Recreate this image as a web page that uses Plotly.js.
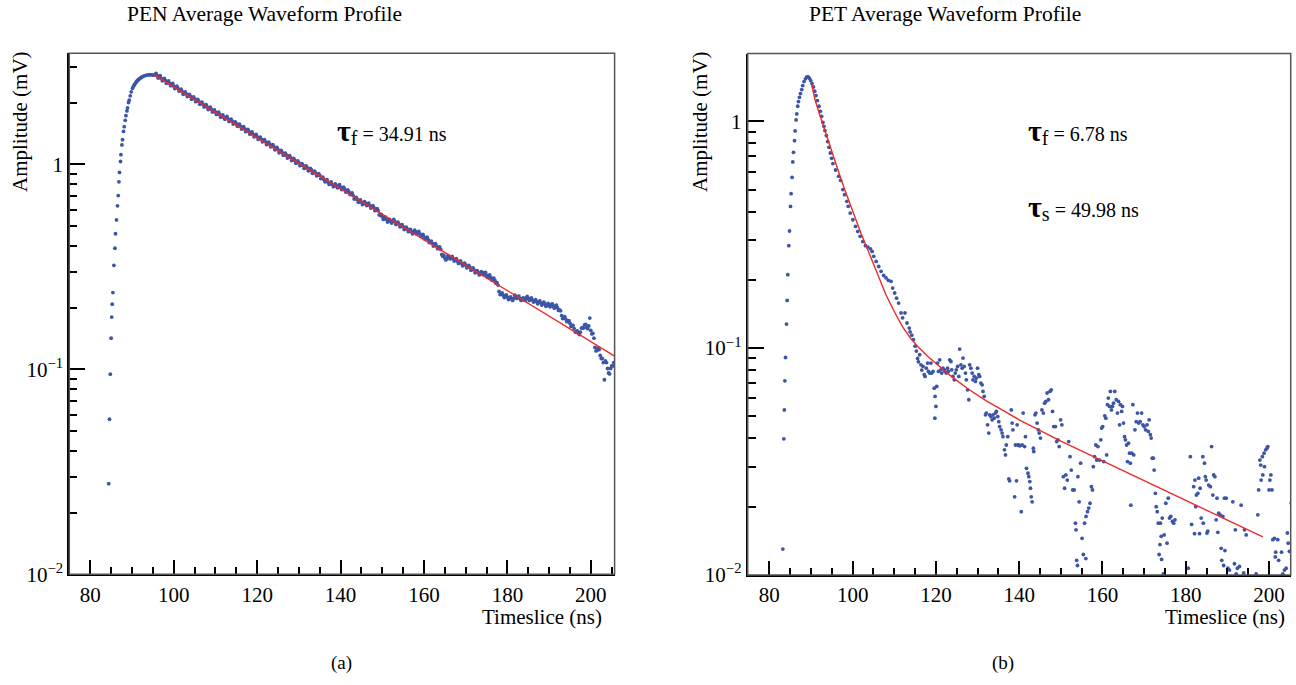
<!DOCTYPE html>
<html><head><meta charset="utf-8">
<script src="https://cdn.plot.ly/plotly-3.0.1.min.js"></script>
<style>html,body{margin:0;padding:0;background:#fff}#chart{width:1296px;height:685px}</style>
</head><body><div id="chart"></div>
<script>
// ---------- PEN waveform (panel a) ----------
const penTime=[84.40,84.59,84.78,84.98,85.12,85.24,85.41,85.65,85.89,86.03,86.27,86.51,86.68,86.85,86.99,87.23,87.33,87.57,87.71,87.95,88.12,88.36,88.53,88.77,88.91,89.15,89.32,89.56,89.80,90.11,90.35,90.55,90.76,90.95,91.16,91.35,91.55,91.8,92.12,92.4,92.75,93.1,93.56,93.9,94.35,94.7,95.14,
95.5,96,96.5,97,97.5,98,98.5,99,99.5,100,100.5,101,101.5,102,102.5,103,103.5,104,104.5,105,105.5,106,106.5,107,107.5,108,108.5,109,109.5,110,110.5,111,111.5,112,
112.5,113,113.5,114,114.5,115,115.5,116,116.5,117,117.5,118,118.5,119,119.5,120,120.5,121,121.5,122,122.5,123,123.5,124,124.5,125,
125.5,126,126.5,127,127.5,128,128.5,129,129.5,130,130.5,131,131.5,132,132.5,133,133.5,134,134.5,135,
135.5,136,136.5,137,137.5,138,138.5,139,139.5,140,140.5,141,141.5,142,142.5,143,143.5,144,144.5,145,145.5,146,146.5,147,147.5,148,148.5,149,
149.5,150,150.5,151,151.5,152,152.5,153,153.5,154,154.5,155,155.5,156,156.5,157,157.5,158,158.5,159,159.5,160,160.5,161,
161.5,162,162.5,163,163.5,164,164.5,165,165.5,166,166.5,167,167.5,168,168.5,169,169.5,170,170.5,171,171.5,172,172.5,173,173.5,
174,174.5,175,175.5,176,176.5,177,177.5,178,178.5,179,179.5,180,180.5,181,181.5,182,182.5,183,183.5,184,
184.5,185,185.5,186,186.5,187,187.5,188,188.5,189,189.5,190,190.5,191,191.5,192,192.5,193,193.5,194,194.5,195,195.5,196,
196.5,197,197.5,198,198.5,199,199.5,200,200.5,201,201.5,202,202.5,203,203.5,204,204.5,205,205.5];
const penAmp=[0.0277,0.0571,0.0948,0.142,0.180,0.208,0.237,0.322,0.390,0.459,0.536,0.628,0.705,0.823,0.914,1.034,1.116,1.245,1.321,1.450,1.529,1.642,1.731,1.826,1.888,2.005,2.058,2.162,2.262,2.355,2.409,2.45,2.483,2.52,2.548,2.575,2.598,2.62,2.649,2.675,2.697,2.715,2.727,2.735,2.740,2.737,2.727,
2.745,2.71,2.68,2.63,2.60,2.565,2.52,2.49,2.46,2.41,2.38,2.35,2.30,2.27,2.22,2.21,2.17,2.15,2.10,2.09,2.04,2.03,1.98,1.97,1.93,1.91,1.88,1.86,1.82,1.80,1.78,1.75,1.72,1.70,
1.69,1.67,1.64,1.625,1.59,1.58,1.55,1.535,1.505,1.49,1.46,1.45,1.42,1.405,1.38,1.365,1.34,1.33,1.30,1.29,1.265,1.255,1.23,1.22,1.19,1.18,
1.15,1.145,1.115,1.11,1.085,1.08,1.05,1.05,1.02,1.02,0.992,0.99,0.962,0.965,0.935,0.94,0.91,0.91,0.885,0.885,
0.855,0.845,0.835,0.82,0.81,0.80,0.79,0.785,0.785,0.775,0.765,0.755,0.74,0.735,0.72,0.705,0.68,0.675,0.66,0.655,0.645,0.645,0.64,0.63,0.62,0.615,0.60,0.595,
0.565,0.555,0.545,0.54,0.53,0.527,0.53,0.526,0.514,0.512,0.50,0.497,0.485,0.484,0.476,0.47,0.467,0.47,0.465,0.458,0.452,0.443,0.437,0.430,
0.418,0.412,0.405,0.400,0.392,0.385,0.357,0.350,0.348,0.355,0.352,0.346,0.343,0.338,0.333,0.330,0.324,0.323,0.316,0.315,0.307,0.306,0.298,0.297,0.292,
0.297,0.294,0.288,0.286,0.281,0.276,0.272,0.265,0.240,0.233,0.230,0.227,0.225,0.222,0.221,0.222,0.228,0.226,0.222,0.220,0.218,
0.224,0.222,0.220,0.218,0.216,0.214,0.213,0.211,0.210,0.208,0.206,0.205,0.207,0.203,0.204,0.200,0.195,0.183,0.178,0.176,0.172,0.168,0.163,0.158,
0.152,0.150,0.152,0.160,0.165,0.160,0.163,0.155,0.150,0.128,0.124,0.125,0.113,0.108,0.110,0.101,0.095,0.104,0.108];
// in-between samples of the PEN decay band
const penTimeB=[95.75,96.25,96.75,97.25,97.75,98.25,98.75,99.25,99.75,100.25,100.75,101.25,101.75,102.25,102.75,103.25,103.75,104.25,104.75,105.25,105.75,106.25,106.75,107.25,107.75,108.25,108.75,109.25,109.75,110.25,110.75,111.25,111.75,112.25,112.75,113.25,113.75,114.25,114.75,115.25,115.75,116.25,116.75,117.25,117.75,118.25,118.75,119.25,119.75,120.25,120.75,121.25,121.75,122.25,122.75,123.25,123.75,124.25,124.75,125.25,125.75,126.25,126.75,127.25,127.75,128.25,128.75,129.25,129.75,130.25,130.75,131.25,131.75,132.25,132.75,133.25,133.75,134.25,134.75,135.25,135.75,136.25,136.75,137.25,137.75,138.25,138.75,139.25,139.75,140.25,140.75,141.25,141.75,142.25,142.75,143.25,143.75,144.25,144.75,145.25,145.75,146.25,146.75,147.25,147.75,148.25,148.75,149.25,149.75,150.25,150.75,151.25,151.75,152.25,152.75,153.25,153.75,154.25,154.75,155.25,155.75,156.25,156.75,157.25,157.75,158.25,158.75,159.25,159.75,160.25,160.75,161.25,161.75,162.25,162.75,163.25,163.75,164.25,164.75,165.25,165.75,166.25,166.75,167.25,167.75,168.25,168.75,169.25,169.75,170.25,170.75,171.25,171.75,172.25,172.75,173.25,173.75,174.25,174.75,175.25,175.75,176.25,176.75,177.25,177.75,178.25,178.75,179.25,179.75,180.25,180.75,181.25,181.75,182.25,182.75,183.25,183.75,184.25,184.75,185.25,185.75,186.25,186.75,187.25,187.75,188.25,188.75,189.25,189.75,190.25,190.75,191.25,191.75,192.25,192.75,193.25,193.75,194.25,194.75,195.25,195.75,196.25,196.75,197.25,197.75,198.25,198.75,199.25,199.75,200.25,200.75,201.25,201.75,202.25,202.75,203.25,203.75,204.25,204.75,205.25];
const penAmpB=[2.78,2.64,2.71,2.56,2.63,2.49,2.555,2.425,2.485,2.345,2.41,2.28,2.33,2.20,2.26,2.145,2.20,2.08,2.135,2.025,2.075,1.965,2.015,1.91,1.96,1.855,1.905,1.805,1.845,1.755,1.80,1.70,1.745,1.66,1.715,1.62,1.665,1.575,1.615,1.535,1.575,1.49,1.53,1.445,1.485,1.405,1.44,1.365,1.40,1.325,1.36,1.29,1.32,1.25,1.285,1.22,1.25,1.18,1.21,1.14,1.17,1.11,1.135,1.075,1.105,1.045,1.07,1.015,1.04,0.986,1.01,0.956,0.983,0.931,0.956,0.906,0.928,0.880,0.903,0.853,0.867,0.823,0.844,0.799,0.821,0.779,0.803,0.769,0.796,0.755,0.775,0.733,0.752,0.713,0.727,0.679,0.691,0.654,0.671,0.637,0.658,0.630,0.648,0.613,0.630,0.595,0.609,0.568,0.571,0.539,0.553,0.524,0.539,0.518,0.539,0.510,0.523,0.496,0.508,0.481,0.494,0.470,0.482,0.459,0.478,0.458,0.471,0.446,0.456,0.431,0.442,0.416,0.423,0.400,0.411,0.388,0.396,0.364,0.361,0.342,0.359,0.346,0.356,0.338,0.347,0.329,0.338,0.320,0.330,0.313,0.322,0.305,0.313,0.296,0.303,0.289,0.300,0.290,0.297,0.281,0.289,0.273,0.279,0.263,0.258,0.232,0.236,0.224,0.231,0.219,0.226,0.217,0.230,0.222,0.228,0.217,0.223,0.217,0.227,0.217,0.223,0.213,0.219,0.209,0.216,0.206,0.213,0.203,0.210,0.202,0.209,0.199,0.206,0.194,0.193,0.177,0.181,0.171,0.173,0.162,0.164,0.152,0.154,0.148,0.159,0.159,0.166,0.158,0.178,0.149,0.142,0.123,0.127,0.117,0.113,0.089,0.108,0.096,0.101,0.104];
const penFitTime=[95.14,205.7];
const penFitAmp=[2.75,0.1160];

// ---------- PET waveform (panel b) ----------
const petTime=[83.24,83.48,83.6,83.72,83.88,84.12,84.27,84.43,84.67,84.84,85.08,85.22,85.46,85.63,85.80,86.04,86.18,86.42,86.59,86.82,86.99,87.23,87.47,87.78,88.02,88.33,88.67,88.98,89.29,89.62,89.93,90.24,90.58,90.89,91.20,91.53,91.92,92.25,92.56,92.87,93.11,93.35,93.69,94.00,94.31,94.64,94.95,95.26,95.9,96.63,97.1,97.65,98.06,98.61,98.95,99.42,100.05,100.69,101.24,101.81,102.44,103.08,103.64,104.28,104.68,105.07,105.64,106.26,106.83,107.46,108.03,108.58,109.22,109.61,110.09,110.56,111.04,111.62,112.0,112.57,113.05,113.6,
113.8,114.2,114.6,115.0,115.3,115.6,115.8,116.1,116.4,116.6,116.9,117.2,117.4,117.7,118.0,118.2,118.5,118.8,119.0,119.3,119.6,119.75,119.8,120.0,120.2,120.4,120.6,120.9,121.2,121.4,121.7,122.0,122.2,122.5,122.8,123.0,123.3,123.6,123.8,124.1,124.4,124.65,124.9,125.2,125.5,125.7,126.0,126.3,126.5,126.8,127.1,127.3,127.6,127.9,128.1,128.4,128.7,128.9,129.2,129.5,129.7,130.0,130.3,130.5,130.8,131.1,131.3,131.6,
131.9,132.1,132.4,132.7,132.9,133.2,133.5,133.7,134.0,134.3,134.5,134.85,135.1,135.3,135.65,135.9,136.1,136.45,136.7,136.9,137.25,137.5,137.7,138.1,138.3,138.5,138.9,139.1,139.35,139.5,139.7,139.9,140.15,140.5,140.7,140.95,141.3,141.5,141.75,142.1,142.3,142.55,142.7,142.9,143.1,143.4,143.5,143.8,144.0,144.3,144.6,144.8,145.1,145.45,145.8,146.1,146.4,146.7,147.05,147.4,147.7,148.0,148.3,148.7,149.0,149.3,149.6,149.95,150.25,150.6,150.9,151.2,151.55,151.9,152.2,152.5,152.85,153.2,153.5,153.65,153.8,154.0,154.1,154.4,154.75,155.1,155.4,155.7,156.0,156.05,156.4,156.7,157.0,157.35,157.6,157.8,158.1,158.4,158.6,158.9,159.3,159.6,159.8,160.05,160.3,160.55,160.8,161.0,161.2,161.4,161.7,161.9,162.15,162.4,162.65,162.95,163.3,163.6,163.85,164.1,164.3,164.6,164.8,165.05,165.3,165.5,165.8,166.0,166.25,166.5,166.7,166.8,167.05,167.3,167.5,167.8,168.1,168.4,168.7,169.05,169.4,169.7,170.0,170.35,170.7,171.0,171.2,171.5,171.7,171.95,172.2,172.4,172.7,172.9,173.15,173.4,173.6,173.8,173.9,174.1,174.2,174.35,174.6,174.8,175.2,175.5,175.8,176.1,176.4,176.8,177.1,177.4,
180.6,181.1,181.4,181.9,182.1,182.2,182.4,182.55,182.9,183.1,183.3,183.45,183.7,184.1,184.2,184.5,184.7,184.9,185.1,185.3,185.5,185.9,186.2,186.5,186.7,187.0,187.3,187.5,187.7,187.9,188.25,188.5,188.65,188.9,189.1,189.3,189.4,189.7,190.1,190.5,191.3,191.7,191.9,192.1,192.4,192.9,193.3,193.9,194.1,194.5,196.9,197.3,197.5,197.8,198.0,198.1,198.4,198.5,198.8,198.9,199.2,199.5,199.7,200.0,200.2,200.45,200.7,200.9,201.3,201.5,201.6,202.1,202.3,203.0,203.3,203.7,204.1,204.4,204.6,204.9,205.35];
const petAmp=[0.0130,0.0398,0.0534,0.0717,0.0909,0.1276,0.1622,0.2107,0.2829,0.3283,0.4216,0.4797,0.5658,0.662,0.730,0.8217,0.907,1.014,1.078,1.165,1.222,1.276,1.325,1.380,1.438,1.497,1.539,1.570,1.570,1.548,1.512,1.467,1.418,1.357,1.299,1.234,1.165,1.107,1.052,0.990,0.950,0.910,0.865,0.814,0.768,0.725,0.687,0.651,0.61,0.572,0.549,0.500,0.475,0.444,0.422,0.394,0.368,0.344,0.327,0.311,0.295,0.283,0.279,0.274,0.267,0.254,0.241,0.229,0.218,0.209,0.204,0.199,0.197,0.184,0.175,0.166,0.158,0.143,0.136,0.143,0.129,0.1225,
0.118,0.114,0.109,0.102,0.097,0.090,0.087,0.0935,0.0844,0.080,0.083,0.0763,0.075,0.0816,0.0859,0.0789,0.0776,0.0859,0.0776,0.0789,0.0666,0.0491,0.0612,0.0553,0.0678,0.0859,0.0789,0.0888,0.0802,0.0776,0.0816,0.0802,0.0789,0.0776,0.0816,0.0789,0.0888,0.0873,0.0802,0.0750,0.0725,0.0776,0.0802,0.0830,0.0750,0.0990,0.0844,0.0816,0.0904,0.0830,0.0776,0.0725,0.0655,0.0592,0.0844,0.0816,0.0776,0.0725,0.0750,0.0713,0.0738,0.0816,0.0763,0.0750,0.0701,0.0689,0.0644,0.0612,
0.0508,0.0517,0.0459,0.0422,0.0508,0.0499,0.0483,0.0508,0.0491,0.0517,0.0526,0.0499,0.0474,0.0451,0.0436,0.0422,0.0407,0.0356,0.0338,0.0374,0.0407,0.0265,0.0260,0.0534,0.0467,0.0436,0.0221,0.0374,0.0260,0.0459,0.0374,0.0373,0.0371,0.0190,0.0374,0.0517,0.0368,0.0407,0.0295,0.0281,0.0271,0.0258,0.0241,0.0221,0.0210,0.0362,0.0350,0.0508,0.0517,0.0467,0.0436,0.0422,0.0401,0.0534,0.0517,0.0572,0.0582,0.0634,0.0592,0.0644,0.0655,0.0526,0.0451,0.0451,0.0387,0.0394,0.0368,0.0483,0.0459,0.0271,0.0241,0.0276,0.0262,0.0387,0.0332,0.0290,0.0237,0.0237,0.0169,0.0158,0.0116,0.0110,0.0271,0.0210,0.0311,0.0145,0.0123,0.0169,0.0118,0.0181,0.0190,0.0197,0.0207,0.0245,0.0237,0.0300,0.0332,0.0374,0.0321,0.0368,0.0321,0.0394,0.0444,0.0451,0.0316,0.0503,0.0491,0.0338,0.0563,0.0602,0.0553,0.0644,0.0534,0.0553,0.0572,0.0644,0.0592,0.0517,0.0582,0.0459,0.0563,0.0526,0.0553,0.0467,0.0407,0.0394,0.0374,0.0316,0.0381,0.0344,0.0311,0.0203,0.0344,0.0563,0.0338,0.0436,0.0474,0.0517,0.0467,0.0474,0.0517,0.0459,0.0451,0.0436,0.0459,0.0429,0.0483,0.0415,0.0401,0.0327,0.0327,0.0290,0.0229,0.0200,0.0190,0.0169,0.0123,0.0136,0.0169,0.0148,0.0117,0.0178,0.0101,0.0150,0.0207,0.0138,0.0218,0.0178,0.0181,0.0172,0.0169,0.0175,
0.0107,0.0332,0.0167,0.0245,0.0152,0.0262,0.0200,0.0225,0.0229,0.0267,0.0152,0.0241,0.0178,0.0332,0.0169,0.0311,0.0271,0.0262,0.0153,0.0156,0.0249,0.0245,0.0368,0.0225,0.0276,0.0271,0.0175,0.0218,0.0154,0.0187,0.0184,0.0131,0.0116,0.0181,0.0110,0.0218,0.0128,0.0218,0.0107,0.0105,0.0210,0.0112,0.0158,0.0101,0.0107,0.0109,0.0203,0.0102,0.0158,0.0150,0.0101,0.0184,0.0237,0.0321,0.0305,0.0262,0.0332,0.0276,0.0344,0.0300,0.0356,0.0362,0.0368,0.0237,0.0262,0.0276,0.0237,0.0143,0.0145,0.0120,0.0126,0.0143,0.0116,0.0126,0.0101,0.0105,0.0107,0.0153,0.0138,0.0127,0.0207];
const petFitTime=[90.1,91,92,93,94,95,96,97,98,99,100,102,104,106,108,110,112,114,116,118,120,124,128,132,136,140,150,160,170,180,190,198.5];
const petFitAmp=[1.47,1.239,1.083,0.949,0.834,0.734,0.647,0.571,0.506,0.450,0.401,0.321,0.261,0.210,0.172,0.145,0.124,0.110,0.100,0.092,0.0855,0.0743,0.0655,0.0587,0.0533,0.0483,0.0389,0.0318,0.0261,0.0214,0.0175,0.0147];

// ---------- ticks & labels ----------
const xTickVals=[80,100,120,140,160,180,200];
const xMinorVals=[85,90,95,105,110,115,125,130,135,145,150,155,165,170,175,185,190,195,205];
const yTickVals=[0.01,0.1,1];
const yTickText=['10<sup>\u2212</sup><sup>2</sup>','10<sup>\u2212</sup><sup>1</sup>','1'];
const yMinorA=[0.02,0.03,0.04,0.05,0.06,0.07,0.08,0.09,0.2,0.3,0.4,0.5,0.6,0.7,0.8,0.9,2,3];
const yMinorB=[0.02,0.03,0.04,0.05,0.06,0.07,0.08,0.09,0.2,0.3,0.4,0.5,0.6,0.7,0.8,0.9];
const panelTitles=['PEN Average Waveform Profile','PET Average Waveform Profile'];
const panelLabels=['(a)','(b)'];
const xTitle='Timeslice (ns)', yTitle='Amplitude (mV)';
const tauPEN=['34.91'], tauPET=['6.78','49.98'];

const FONT='Liberation Serif, Times New Roman, serif';
const BLUE='#3b56a6', RED='#ee2a2a';

function markers(x,y,xa,ya){return {x:x,y:y,xaxis:xa,yaxis:ya,type:'scatter',mode:'markers',
  marker:{color:BLUE,size:3.8,line:{width:0}},hoverinfo:'skip',showlegend:false};}
function fit(x,y,xa,ya){return {x:x,y:y,xaxis:xa,yaxis:ya,type:'scatter',mode:'lines',
  line:{color:RED,width:1.4},hoverinfo:'skip',showlegend:false};}

const data=[markers(penTime,penAmp,'x','y'),markers(penTimeB,penAmpB,'x','y'),fit(penFitTime,penFitAmp,'x','y'),
            markers(petTime,petAmp,'x2','y2'),fit(petFitTime,petFitAmp,'x2','y2')];

function xax(domain,range,anchor){return {domain:domain,range:range,anchor:anchor,
  tickmode:'array',tickvals:xTickVals,ticks:'inside',ticklen:14,tickwidth:2,tickcolor:'#000',
  minor:{tickmode:'array',tickvals:xMinorVals,ticks:'inside',ticklen:7,tickwidth:2,tickcolor:'#000',showgrid:false},
  showline:true,linecolor:'#000',linewidth:2,mirror:false,showgrid:false,zeroline:false,
  tickfont:{family:FONT,size:21,color:'#000'},fixedrange:true};}
function yax(domain,range,anchor,minorVals){return {domain:domain,range:range,anchor:anchor,type:'log',
  tickmode:'array',tickvals:yTickVals,ticktext:yTickText,ticks:'inside',ticklen:16,tickwidth:2,tickcolor:'#000',
  minor:{tickmode:'array',tickvals:minorVals,ticks:'inside',ticklen:8,tickwidth:2,tickcolor:'#000',showgrid:false},
  showline:true,linecolor:'#000',linewidth:2,mirror:false,showgrid:false,zeroline:false,
  tickfont:{family:FONT,size:21,color:'#000'},fixedrange:true};}

const W=1296,H=685;
const px=v=>v/W, py=v=>1-v/H;

const ann=[];
function txt(text,x,y,xanchor,yanchor,size,extra){ann.push(Object.assign({text:text,x:px(x),y:py(y),xref:'paper',yref:'paper',
  xanchor:xanchor,yanchor:yanchor,showarrow:false,font:{family:FONT,size:size,color:'#000'}},extra||{}));}
txt(panelTitles[0],264,14,'center','middle',21.5);
txt(panelTitles[1],945,14,'center','middle',21.5);
txt(panelLabels[0],341,663,'center','middle',19);
txt(panelLabels[1],1003,663,'center','middle',19);
txt(xTitle,604,617,'right','middle',21);
txt(xTitle,1287,617,'right','middle',21);
txt(yTitle,20,122,'center','middle',21,{textangle:-90});
txt(yTitle,700,122,'center','middle',21,{textangle:-90});
const tau=s=>'<span style="font-size:30px"><b>\u03c4</b></span><sub><span style="font-size:20px">'+s+'</span></sub>';
txt(tau('f')+' = '+tauPEN[0]+' ns',335,131,'left','middle',20);
txt(tau('f')+' = '+tauPET[0]+' ns',1026,132,'left','middle',20);
txt(tau('s')+' = '+tauPET[1]+' ns',1026,207,'left','middle',20);

const frame=(xr,yr)=>({type:'rect',xref:xr+' domain',yref:yr+' domain',x0:0,x1:1,y0:0,y1:1,
  line:{color:'#555',width:1.5},fillcolor:'rgba(0,0,0,0)',layer:'above'});

const layout={width:W,height:H,margin:{l:0,r:0,t:0,b:0,autoexpand:false},
  paper_bgcolor:'#fff',plot_bgcolor:'#fff',showlegend:false,
  xaxis:xax([px(69.3),px(614.6)],[74.95,205.7],'y'),
  yaxis:yax([py(574.3),py(53.3)],[-2,0.5425],'x',yMinorA),
  xaxis2:xax([px(747.7),px(1290.7)],[74.8,205.2],'y2'),
  yaxis2:yax([py(574.9),py(53.5)],[-2,0.299],'x2',yMinorB),
  shapes:[frame('x','y'),frame('x2','y2')],
  annotations:ann};

Plotly.newPlot('chart',data,layout,{staticPlot:true,displayModeBar:false});
</script></body></html>
